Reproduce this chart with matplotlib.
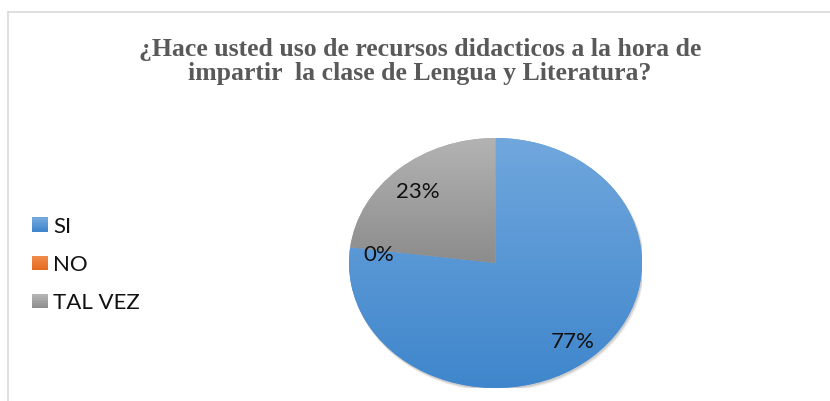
import matplotlib
matplotlib.use("Agg")
import matplotlib.pyplot as plt
import numpy as np
from matplotlib.lines import Line2D
from matplotlib.patches import Ellipse
from matplotlib.colors import LinearSegmentedColormap
from matplotlib.legend_handler import HandlerBase
from matplotlib.patches import Rectangle

categories = ["SI", "NO", "TAL VEZ"]
values = [77, 0, 23]
title = "¿Hace usted uso de recursos didacticos a la hora de\nimpartir  la clase de Lengua y Literatura?"

top_colors = ["#70a7dd", "#f08a48", "#b3b3b3"]
bot_colors = ["#3f86cc", "#e56b1f", "#8c8c8c"]
mid_colors = ["#5b9bd5", "#ed7d31", "#a5a5a5"]

W, H = 830, 401
fig = plt.figure(figsize=(W / 100, H / 100), dpi=100)
fig.patch.set_facecolor("white")

# frame
fig.add_artist(Line2D([8 / W, 1], [1 - 12 / H, 1 - 12 / H], color="#d9d9d9", lw=1.2))
fig.add_artist(Line2D([8 / W, 8 / W], [0, 1 - 12 / H], color="#d9d9d9", lw=1.2))

# title (baseline alignment refers to last line)
fig.text(420 / W, 1 - 80 / H, title, ha="center", va="baseline", multialignment="center",
         family="Liberation Serif", fontweight="bold", fontsize=18.5, color="#595959",
         linespacing=1.05)

# pie axes (elliptical)
cx, cy, rx, ry = 495.5, 263, 146.5, 125
ax = fig.add_axes([(cx - rx) / W, 1 - (cy + ry) / H, 2 * rx / W, 2 * ry / H])

# soft shadow
for k, a in [(3.0, 0.05), (2.2, 0.07), (1.4, 0.09)]:
    ax.add_patch(Ellipse((k / rx * 0.6, -k / ry * 0.9), 2 + 0.6 * k / rx, 2 + 0.6 * k / ry,
                         facecolor="black", alpha=a, lw=0, zorder=0))

wedges, texts, autotexts = ax.pie(values, colors=mid_colors, startangle=90, counterclock=False,
                                  autopct=lambda p: f"{p:.0f}%", pctdistance=0.8,
                                  wedgeprops=dict(linewidth=0),
                                  textprops=dict(family="Lato", fontsize=16, color="#111111"))
ax.set_aspect("auto")

for w, tc, bc in zip(wedges, top_colors, bot_colors):
    ext = w.get_path().get_extents()
    if ext.width <= 1e-6:
        continue
    cmap = LinearSegmentedColormap.from_list("g", [bc, tc])
    grad = np.linspace(0, 1, 256).reshape(-1, 1)
    im = ax.imshow(grad, cmap=cmap, origin="lower", aspect="auto",
                   extent=[ext.x0, ext.x1, ext.y0, ext.y1], zorder=w.get_zorder() + 0.1)
    im.set_clip_path(w)
ax.set_xlim(-1, 1)
ax.set_ylim(-1, 1)
ax.axis("off")
for t in autotexts:
    t.set_zorder(5)
    x, y = t.get_position()
    t.set_position((x, y - 0.035))


class GradHandler(HandlerBase):
    def __init__(self, tc, bc):
        super().__init__()
        self.tc, self.bc = tc, bc

    def create_artists(self, legend, orig_handle, xdescent, ydescent, width, height, fontsize, trans):
        arts = []
        n = 8
        c1 = np.array(matplotlib.colors.to_rgb(self.bc))
        c2 = np.array(matplotlib.colors.to_rgb(self.tc))
        for i in range(n):
            f = i / (n - 1)
            col = c1 + (c2 - c1) * f
            r = Rectangle((-xdescent, -ydescent + height * i / n), width, height / n + 0.3,
                          facecolor=col, lw=0, transform=trans)
            arts.append(r)
        return arts


hmap = {w: GradHandler(tc, bc) for w, tc, bc in zip(wedges, top_colors, bot_colors)}
leg = fig.legend(wedges, categories, loc="center left", bbox_to_anchor=(28 / W, 1 - 265 / H),
                 frameon=False, prop=dict(family="Lato", size=16), handler_map=hmap,
                 handlelength=0.7, handleheight=0.6, handletextpad=0.22, labelspacing=0.82,
                 borderpad=0.2, borderaxespad=0)
for t in leg.get_texts():
    t.set_color("#111111")

fig.savefig("out.png", dpi=100)
